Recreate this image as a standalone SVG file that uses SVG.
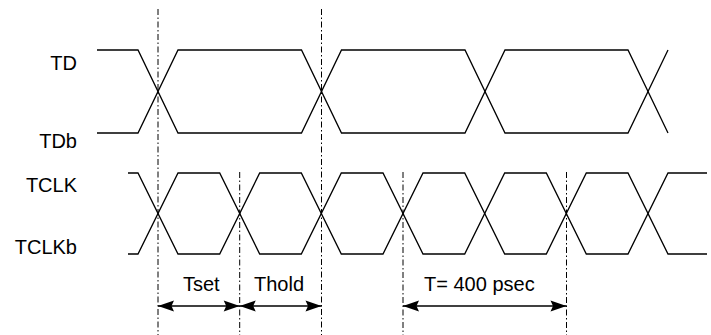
<svg xmlns="http://www.w3.org/2000/svg" width="711" height="335" viewBox="0 0 711 335">
<style>
  .wave { fill: none; stroke: #000; stroke-width: 1.3; stroke-linejoin: miter; }
  .guide { fill: none; stroke: #000; stroke-width: 1; stroke-dasharray: 6 2.5 1.5 2.5; }
  .dim { fill: none; stroke: #000; stroke-width: 1.3; marker-start: url(#ah); marker-end: url(#ah); }
  .lbl { font-family: "Liberation Sans", Arial, sans-serif; font-size: 20px; fill: #000; }
</style>
<defs>
  <marker id="ah" markerUnits="userSpaceOnUse" viewBox="-17 -6 18 12" refX="0" refY="0" markerWidth="18" markerHeight="12" orient="auto-start-reverse">
    <path d="M0,0 L-16,-5.5 L-13.5,0 L-16,5.5 Z" fill="#000"/>
  </marker>
</defs>
<rect width="711" height="335" fill="#fff"/>
<g id="guides">
  <line class="guide" x1="158" y1="9" x2="158" y2="335"/>
  <line class="guide" x1="239.7" y1="172" x2="239.7" y2="335"/>
  <line class="guide" x1="321.5" y1="9" x2="321.5" y2="335"/>
  <line class="guide" x1="403" y1="172" x2="403" y2="335"/>
  <line class="guide" x1="566.5" y1="172" x2="566.5" y2="335"/>
</g>
<g id="TD">
  <text class="lbl" x="77" y="70" text-anchor="end">TD</text>
  <path class="wave" d="M97,50 H138 L178,133 H301.5 L341.5,50 H465 L505,133 H628 L668,50"/>
</g>
<g id="TDb">
  <text class="lbl" x="77" y="148" text-anchor="end">TDb</text>
  <path class="wave" d="M97,133 H138 L178,50 H301.5 L341.5,133 H465 L505,50 H628 L668,133"/>
</g>
<g id="TCLK">
  <text class="lbl" x="77" y="192" text-anchor="end">TCLK</text>
  <path class="wave" d="M128,173 H138 L178,254 H219.7 L259.7,173 H301.3 L341.3,254 H383 L423,173 H464.7 L504.7,254 H546.3 L586.3,173 H628 L668,254 H707"/>
</g>
<g id="TCLKb">
  <text class="lbl" x="77" y="254" text-anchor="end">TCLKb</text>
  <path class="wave" d="M128,254 H138 L178,173 H219.7 L259.7,254 H301.3 L341.3,173 H383 L423,254 H464.7 L504.7,173 H546.3 L586.3,254 H628 L668,173 H707"/>
</g>
<g id="connectors">
  <g id="tset">
    <line class="dim" x1="158" y1="306" x2="239.7" y2="306"/>
    <text class="lbl" x="183" y="291">Tset</text>
  </g>
  <g id="thold">
    <line class="dim" x1="239.7" y1="306" x2="321.5" y2="306"/>
    <text class="lbl" x="254" y="291">Thold</text>
  </g>
  <g id="period">
    <line class="dim" x1="403" y1="306" x2="566.5" y2="306"/>
    <text class="lbl" x="424" y="291">T= 400 psec</text>
  </g>
</g>
</svg>
